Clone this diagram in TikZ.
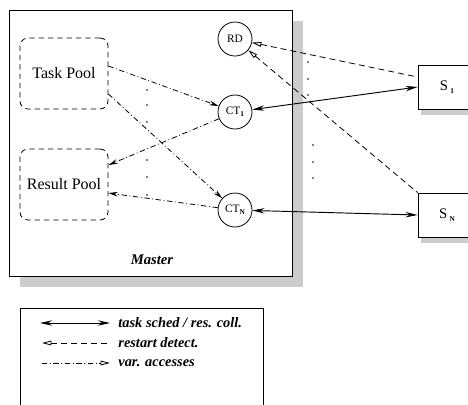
\documentclass[tikz,border=0pt]{standalone}
\usepackage{fontspec}
\setmainfont{Liberation Serif}
\usetikzlibrary{arrows.meta,positioning}
\definecolor{shadowgray}{gray}{0.8}
\tikzset{
	sched/.style={{Stealth[length=9pt,width=4pt]}-{Stealth[length=9pt,width=4pt]}, line width=0.7pt}, % the two way link to a slave
	detect/.style={{Triangle[open,length=7pt,width=3.5pt]}-, dash pattern=on 4.5pt off 3pt},
	access/.style={-{Stealth[length=7pt,width=3.5pt]}, dash pattern=on 4pt off 2pt on 0.6pt off 2pt},
	key access/.style={-{Triangle[open,length=7pt,width=3.5pt]}, dash pattern=on 4pt off 2pt on 0.6pt off 2pt}
}
\newcommand{\sub}[1]{\raisebox{-0.45ex}{\fontsize{5.5}{6}\selectfont\bfseries #1}}

\begin{document}
\begin{tikzpicture}[x=0.75pt,y=-0.75pt,line width=0.6pt]
            \tikzset{my circle/.style = {circle, draw, fill=white, minimum size=25.5pt, inner sep=0pt, font=\fontsize{8.5}{10}\selectfont}}
            \tikzset{my pool/.style = {draw, dash pattern=on 4pt off 3pt, rounded corners=6pt, minimum width=66pt, minimum height=53.25pt, font=\fontsize{12}{14}\selectfont}}
            \tikzset{my box/.style = {draw, minimum width=43.5pt, minimum height=33pt, font=\fontsize{11}{13}\selectfont}}
            \tikzset{my key/.style = {inner sep=0pt, font=\fontsize{10.8}{13}\selectfont\bfseries\itshape}}
            \clip (0,0) rectangle (468,404);
            % master with its shadow
            \node[fill=shadowgray, minimum width=212.25pt, minimum height=199.5pt] at (161.5,154) {};
            \node[draw, fill=white, minimum width=212.25pt, minimum height=199.5pt] (master) at (150.5,143) {};
            \node[font=\fontsize{11}{13}\selectfont\bfseries\itshape] (mlabel) at (152,260) {Master};
            \node[my pool] (tp) at (64,73.5) {Task Pool};
            \node[my pool] (rp) at (64,184.5) {Result Pool};
            \node[my circle] (rd) at (235,39) {RD};
            \node[my circle] (ct1) at (235,112) {CT\sub{1}};
            \node[my circle] (ctn) at (235,210) {CT\sub{N}};
            % slaves
            \node[my box, fill=shadowgray, draw=none] at (450,93) {};
            \node[my box, fill=white] (s1) at (447,87) {S\,\sub{1}};
            \node[my box, fill=shadowgray, draw=none] at (450,221) {};
            \node[my box, fill=white] (sn) at (447,215) {S\,\sub{N}};
            \draw[access] ([yshift=5.6pt]tp.east) -- (ct1);
            \draw[access] ([yshift=-15.4pt]tp.east) -- (ctn);
            \draw[access] (ct1) -- ([yshift=14.6pt]rp.east);
            \draw[access] (ctn) -- ([yshift=-6.4pt]rp.east);
            \draw[sched] (ct1) -- (s1.west);
            \draw[sched] (ctn) -- (sn.west);
            \draw[detect] (rd) -- ([yshift=7.5pt]s1.west);
            \draw[detect] (rd) -- (sn.north west);
            % dots
            \foreach \y in {90,105,122,160,177,195} \fill (147,\y) circle (0.8);
            \foreach \y in {62,79,95} \fill (308,\y) circle (0.8);
            \foreach \y in {145,162,178} \fill (313,\y) circle (0.8);
            % legend
            \draw (20,420) rectangle (263,308);
            \coordinate (k1a) at (40,323);
            \coordinate (k1b) at (110,323);
            \coordinate (k2a) at (42,343);
            \coordinate (k2b) at (110,343);
            \coordinate (k3a) at (42,363);
            \coordinate (k3b) at (110,363);
            \draw[sched] (k1a) -- (k1b);
            \draw[detect] (k2a) -- (k2b);
            \draw[key access] (k3a) -- (k3b);
            \node[my key, right=6pt of k1b] (t1) {task sched / res. coll.};
            \node[my key, right=6pt of k2b] (t2) {restart detect.};
            \node[my key, right=6pt of k3b] (t3) {var. accesses};
\end{tikzpicture}
\end{document}
